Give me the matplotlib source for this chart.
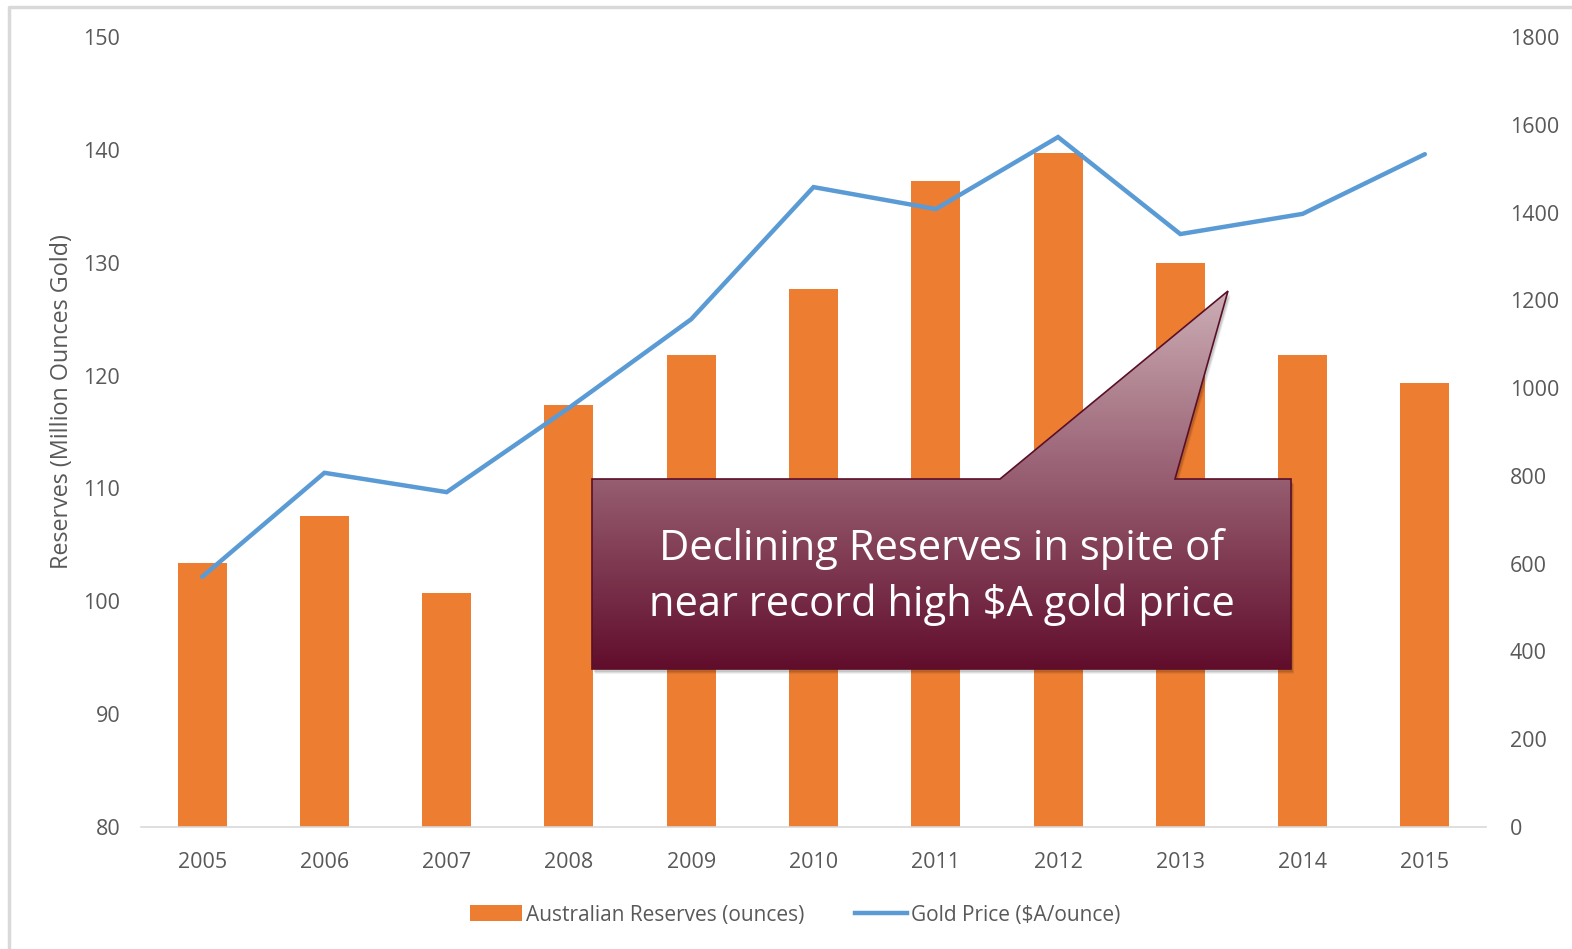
import matplotlib
matplotlib.use("Agg")
import matplotlib.pyplot as plt
import numpy as np
from matplotlib.patches import Polygon
from matplotlib.lines import Line2D
from matplotlib.patches import Patch

years = ["2005", "2006", "2007", "2008", "2009", "2010", "2011", "2012", "2013", "2014", "2015"]
reserves = [103.4, 107.6, 100.7, 117.4, 121.8, 127.7, 137.2, 139.7, 130.0, 121.8, 119.3]
gold_price = [570, 807, 763, 955, 1157, 1458, 1408, 1572, 1351, 1397, 1533]
left_ticks = [80, 90, 100, 110, 120, 130, 140, 150]
right_ticks = [0, 200, 400, 600, 800, 1000, 1200, 1400, 1600, 1800]
callout_lines = ["Declining Reserves in spite of", "near record high $A gold price"]

ORANGE = "#ED7D31"
BLUE = "#5B9BD5"
GRAY = "#595959"
FONT = ["Open Sans", "DejaVu Sans"]

W, H = 1572, 949
fig = plt.figure(figsize=(W / 100, H / 100), dpi=100)
plt.rcParams['font.family'] = FONT

ax = fig.add_axes([141 / W, 1 - 827 / H, (1486 - 141) / W, (827 - 37) / H])
x = np.arange(len(years))
ax.bar(x, [r - 80 for r in reserves], bottom=80, width=0.4, color=ORANGE, zorder=2)
ax.set_xlim(-0.5, len(years) - 0.5)
ax.set_ylim(80, 150)
ax.set_yticks(left_ticks)
ax.set_xticks(x)
ax.set_xticklabels(years)
for s in ["top", "right", "left"]:
    ax.spines[s].set_visible(False)
ax.spines["bottom"].set_color("#d9d9d9")
ax.spines["bottom"].set_linewidth(1.2)
ax.tick_params(axis="both", length=0, colors=GRAY, labelsize=15.5)
ax.tick_params(axis="y", pad=15)
ax.tick_params(axis="x", pad=18)
ax.set_ylabel("Reserves (Million Ounces Gold)", color=GRAY, fontsize=16.8)
ax.yaxis.set_label_coords((74 - 141) / 1345, (827 - 402) / 790)

ax2 = ax.twinx()
ax2.plot(x, gold_price, color=BLUE, lw=3.2, solid_capstyle="round", solid_joinstyle="miter", zorder=3)
ax2.set_ylim(0, 1800)
ax2.set_yticks(right_ticks)
for s in ["top", "right", "left", "bottom"]:
    ax2.spines[s].set_visible(False)
ax2.tick_params(axis="y", length=0, colors=GRAY, labelsize=15.5, pad=17)

# legend
handles = [Patch(facecolor=ORANGE, edgecolor="none", label="Australian Reserves (ounces)"),
           Line2D([0], [0], color=BLUE, lw=3.2, label="Gold Price ($A/ounce)")]
leg = fig.legend(handles=handles, loc="center", bbox_to_anchor=(795 / W, 1 - 915 / H), ncol=2,
                 frameon=False, fontsize=15, handlelength=2.5, handletextpad=0.2,
                 columnspacing=2.4, handleheight=0.8)
for t in leg.get_texts():
    t.set_color(GRAY)

# overlay in pixel coordinates for callout and chart border
ov = fig.add_axes([0, 0, 1, 1], zorder=10)
ov.set_xlim(0, W)
ov.set_ylim(H, 0)
ov.axis("off")
ov.patch.set_alpha(0)

ov.plot([9, 9, W], [H, 7, 7], color="#d9d9d9", lw=2.5)

pts = [(592, 479), (1000, 479), (1228, 291), (1175, 479), (1291, 479), (1291, 669), (592, 669)]
for off, a in [(5, 0.06), (4, 0.08), (3, 0.10)]:
    ov.add_patch(Polygon([(px + off * 0.6, py + off) for px, py in pts], closed=True,
                         facecolor="black", alpha=a, edgecolor="none", zorder=1))
poly = Polygon(pts, closed=True, facecolor="none", edgecolor="#5a0f28", lw=1.2, zorder=3)
ov.add_patch(poly)
top_c = np.array([0.80, 0.68, 0.71])
bot_c = np.array([0.38, 0.05, 0.17])
ys = np.linspace(0, 1, 256)[:, None]
grad = top_c[None, None, :] * (1 - ys[:, :, None]) + bot_c[None, None, :] * ys[:, :, None]
grad = np.repeat(grad, 2, axis=1)
im = ov.imshow(grad, extent=(592, 1291, 669, 291), aspect="auto", zorder=2, interpolation="bilinear")
clip = Polygon(pts, closed=True, transform=ov.transData)
im.set_clip_path(clip)
ov.set_xlim(0, W)
ov.set_ylim(H, 0)

ov.text(942, 549, callout_lines[0], color="white", fontsize=30, ha="center", va="center", zorder=4)
ov.text(942, 605, callout_lines[1], color="white", fontsize=30, ha="center", va="center", zorder=4)

fig.savefig("out.png", dpi=100, facecolor="white")
